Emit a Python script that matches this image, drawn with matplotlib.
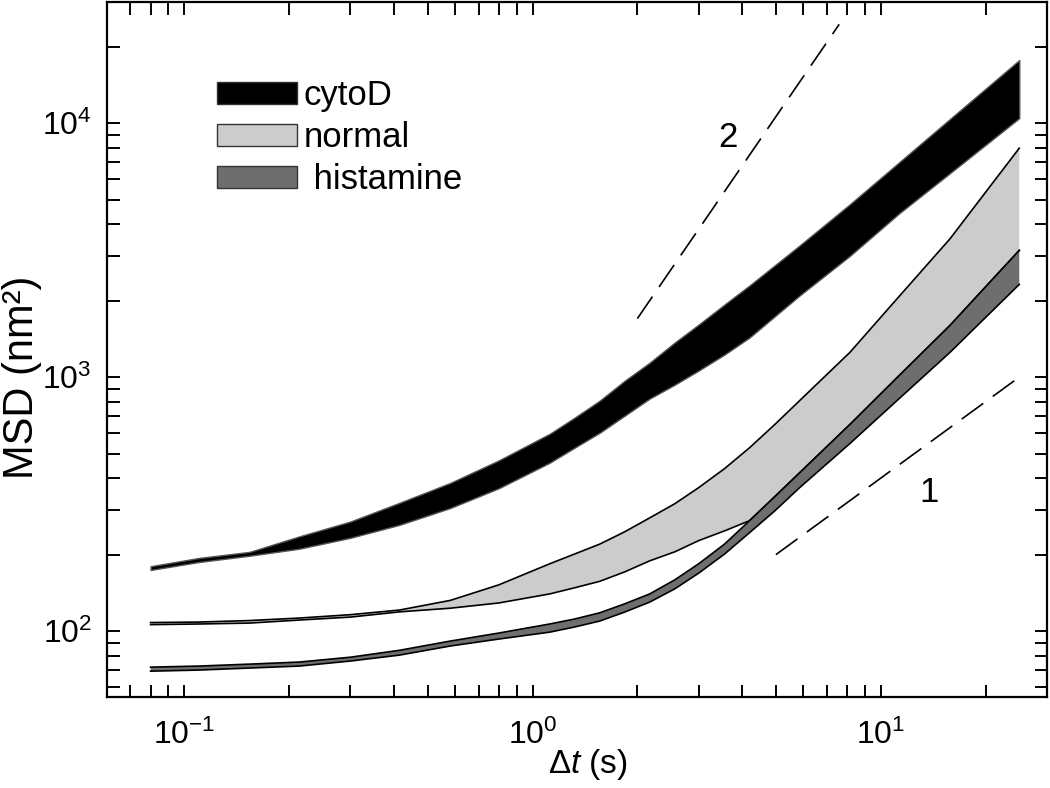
import numpy as np
import matplotlib
matplotlib.use('Agg')
import matplotlib.pyplot as plt
from matplotlib.patches import Patch

plt.rcParams['font.family'] = ['Liberation Sans', 'DejaVu Sans']
plt.rcParams['mathtext.fontset'] = 'custom'
plt.rcParams['mathtext.rm'] = 'Liberation Sans'
plt.rcParams['mathtext.it'] = 'Liberation Sans:italic'

t = [0.08, 0.11, 0.154, 0.214, 0.3, 0.415, 0.58, 0.8,
     1.12, 1.32, 1.56, 1.84, 2.17, 2.56, 3.0, 3.56, 4.2, 4.96, 5.85,
     8.15, 11.3, 15.8, 25]

# MSD band edges (nm^2)
cyto_hi = [180, 194, 205, 236, 270, 320, 383, 470,
           598, 692, 808, 968, 1140, 1368, 1610, 1932, 2296, 2754, 3300,
           4790, 7015, 10380, 17720]
cyto_lo = [174, 187, 198, 211, 233, 262, 305, 365,
           460, 527, 604, 705, 823, 933, 1061, 1227, 1432, 1734, 2096,
           3000, 4415, 6350, 10465]

norm_hi = [108, 108.5, 110, 112.5, 116, 121, 132, 152,
           184, 201, 220, 246, 279, 317, 367, 436, 527, 650, 808,
           1250, 2080, 3500, 7970]
norm_lo = [106, 106.6, 107.5, 110.5, 113.5, 119, 123, 129,
           140, 148, 157, 171, 189, 205, 227, 248, 272, 338, 420,
           650, 1014, 1596, 3155]

hist_hi = [72.1, 72.8, 74.1, 75.5, 78.9, 84, 91.3, 98.2,
           106.6, 111.5, 118, 128, 140, 159, 184, 220, 272, 338, 420,
           650, 1014, 1596, 3155]
hist_lo = [69.5, 70.2, 71.5, 72.8, 76.2, 80.4, 87.3, 93,
           99, 103.7, 109.5, 118.8, 130, 146.5, 169, 201, 244, 297, 367,
           547, 823, 1250, 2317]

# power-law guide lines
guide1_t = [5, 25]
guide1_y = [200, 1000]
guide2_t = [2, 7.6]
guide2_y = [1700, 24500]

labels = ['cytoD', 'normal', ' histamine']
colors = ['black', '#cccccc', '#6e6e6e']

fig = plt.figure(figsize=(10.5, 7.88), dpi=100)
ax = fig.add_axes([0.102, 0.1155, 0.895, 0.882])
ax.set_xscale('log')
ax.set_yscale('log')

ax.fill_between(t, cyto_lo, cyto_hi, facecolor=colors[0], edgecolor='#555555', lw=1.0, zorder=3)
ax.fill_between(t, norm_lo, norm_hi, facecolor=colors[1], edgecolor='none', zorder=2)
ax.plot(t, norm_hi, color='black', lw=1.2, zorder=2)
ax.plot(t, norm_lo, color='black', lw=1.2, zorder=2)
ax.fill_between(t, hist_lo, hist_hi, facecolor=colors[2], edgecolor='none', zorder=2.5)
ax.plot(t, hist_hi, color='black', lw=1.2, zorder=2.5)
ax.plot(t, hist_lo, color='black', lw=1.2, zorder=2.5)

ax.plot(guide1_t, guide1_y, color='black', lw=1.2, ls=(0, (16, 7)))
ax.plot(guide2_t, guide2_y, color='black', lw=1.2, ls=(0, (16, 7)))
ax.text(13.8, 350, '1', fontsize=25, ha='center', va='center')
ax.text(3.63, 8800, '2', fontsize=25, ha='center', va='center')

ax.set_xlim(0.06, 30)
ax.set_ylim(55, 30000)

for side in ax.spines.values():
    side.set_linewidth(1.6)
ax.tick_params(which='both', direction='in', top=True, right=True,
               length=9, width=1.4, labelsize=23)
ax.tick_params(axis='x', which='both', pad=16)
ax.tick_params(axis='y', which='both', pad=11)

ax.set_xlabel(r'$\mathit{\Delta t}$ (s)', fontsize=24)
ax.xaxis.set_label_coords(0.512, -0.072)
ax.set_ylabel('MSD (nm²)', fontsize=30)
ax.yaxis.set_label_coords(-0.069, 0.46)

handles = [Patch(facecolor=c, edgecolor='#333333', lw=1.0) for c in colors]
ax.legend(handles, labels, loc='upper left', bbox_to_anchor=(0.117, 0.889),
          frameon=False, fontsize=25, handlelength=2.3, handleheight=0.6,
          handletextpad=0.2, labelspacing=0.26, borderpad=0, borderaxespad=0)

fig.savefig('out.png', dpi=100)
